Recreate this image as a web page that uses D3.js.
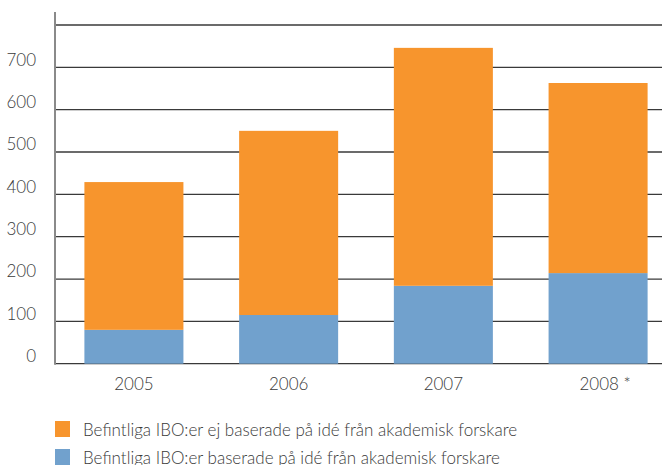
<!DOCTYPE html>
<html>
<head>
<meta charset="utf-8">
<script src="https://cdn.jsdelivr.net/npm/d3@7"></script>
<style>
  body { margin: 0; background: #fff; }
  svg text { font-family: Lato, "Open Sans", sans-serif; font-weight: 300; fill: #3a3a3a; }
</style>
</head>
<body>
<svg width="662" height="465"></svg>
<script>
const width = 662;
const height = 465;

const years = ["2005", "2006", "2007", "2008 *"];
// IBO:er baserade på idé från akademisk forskare (blue, bottom)
const akademisk = [80, 115, 184, 214];
// IBO:er ej baserade på idé från akademisk forskare (orange, top)
const ejAkademisk = [349, 435, 562, 449];
const yTicks = [0, 100, 200, 300, 400, 500, 600, 700, 800];
const legendLabels = [
  "Befintliga IBO:er ej baserade på idé från akademisk forskare",
  "Befintliga IBO:er baserade på idé från akademisk forskare"
];

const svg = d3.select('svg');

const rows = years.map((y, i) => ({ year: y, bas: akademisk[i], ej: ejAkademisk[i] }));
const series = d3.stack().keys(["bas", "ej"])(rows);

const color = d3.scaleOrdinal()
  .domain(["ej", "bas"])
  .range(["#f7952d", "#71a1cd"]);

const x = d3.scaleBand()
  .domain(years)
  .range([55, 677])
  .paddingInner(0.36)
  .paddingOuter(0.19);

const y = d3.scaleLinear()
  .domain([0, 800])
  .range([363.7, 25]);

// gridlines
svg.selectAll("line.grid")
  .data(yTicks)
  .enter().append("line")
  .attr("class", "grid")
  .attr("x1", 55)
  .attr("x2", width)
  .attr("y1", d => y(d))
  .attr("y2", d => y(d))
  .style("stroke", "#3a3a3a")
  .style("stroke-width", 1.3);

// stacked bars
svg.selectAll("g.layer")
  .data(series)
  .enter().append("g")
  .attr("class", "layer")
  .style("fill", d => color(d.key))
  .selectAll("rect")
  .data(d => d)
  .enter().append("rect")
  .attr("x", d => x(d.data.year))
  .attr("width", x.bandwidth())
  .attr("y", d => y(d[1]))
  .attr("height", d => y(d[0]) - y(d[1]));

// y axis line
svg.append("line")
  .attr("x1", 55).attr("x2", 55)
  .attr("y1", 12).attr("y2", y(0) + 1)
  .style("stroke", "#8a8a8a")
  .style("stroke-width", 2);

// y tick labels (no label on the top line)
svg.selectAll("text.ytick")
  .data(yTicks.filter(d => d < 800))
  .enter().append("text")
  .attr("class", "ytick")
  .attr("x", 36)
  .attr("y", d => y(d) - 6)
  .attr("text-anchor", "end")
  .attr("dominant-baseline", "middle")
  .style("font-size", "17px")
  .text(d => d);

// x labels
svg.selectAll("text.xtick")
  .data(years)
  .enter().append("text")
  .attr("class", "xtick")
  .attr("x", d => x(d) + x.bandwidth() / 2 + (d.includes("*") ? 7 : 0))
  .attr("y", 386)
  .attr("text-anchor", "middle")
  .attr("dominant-baseline", "middle")
  .style("font-size", "17px")
  .text(d => d);

// legend
const legend = svg.selectAll("g.legend")
  .data(["ej", "bas"])
  .enter().append("g")
  .attr("class", "legend")
  .attr("transform", (d, i) => `translate(55, ${421 + i * 28})`);

legend.append("rect")
  .attr("width", 15)
  .attr("height", 16)
  .style("fill", d => color(d));

legend.append("text")
  .attr("x", 28)
  .attr("y", 15)
  .style("font-size", "17px")
  .text((d, i) => legendLabels[i]);
</script>
</body>
</html>
